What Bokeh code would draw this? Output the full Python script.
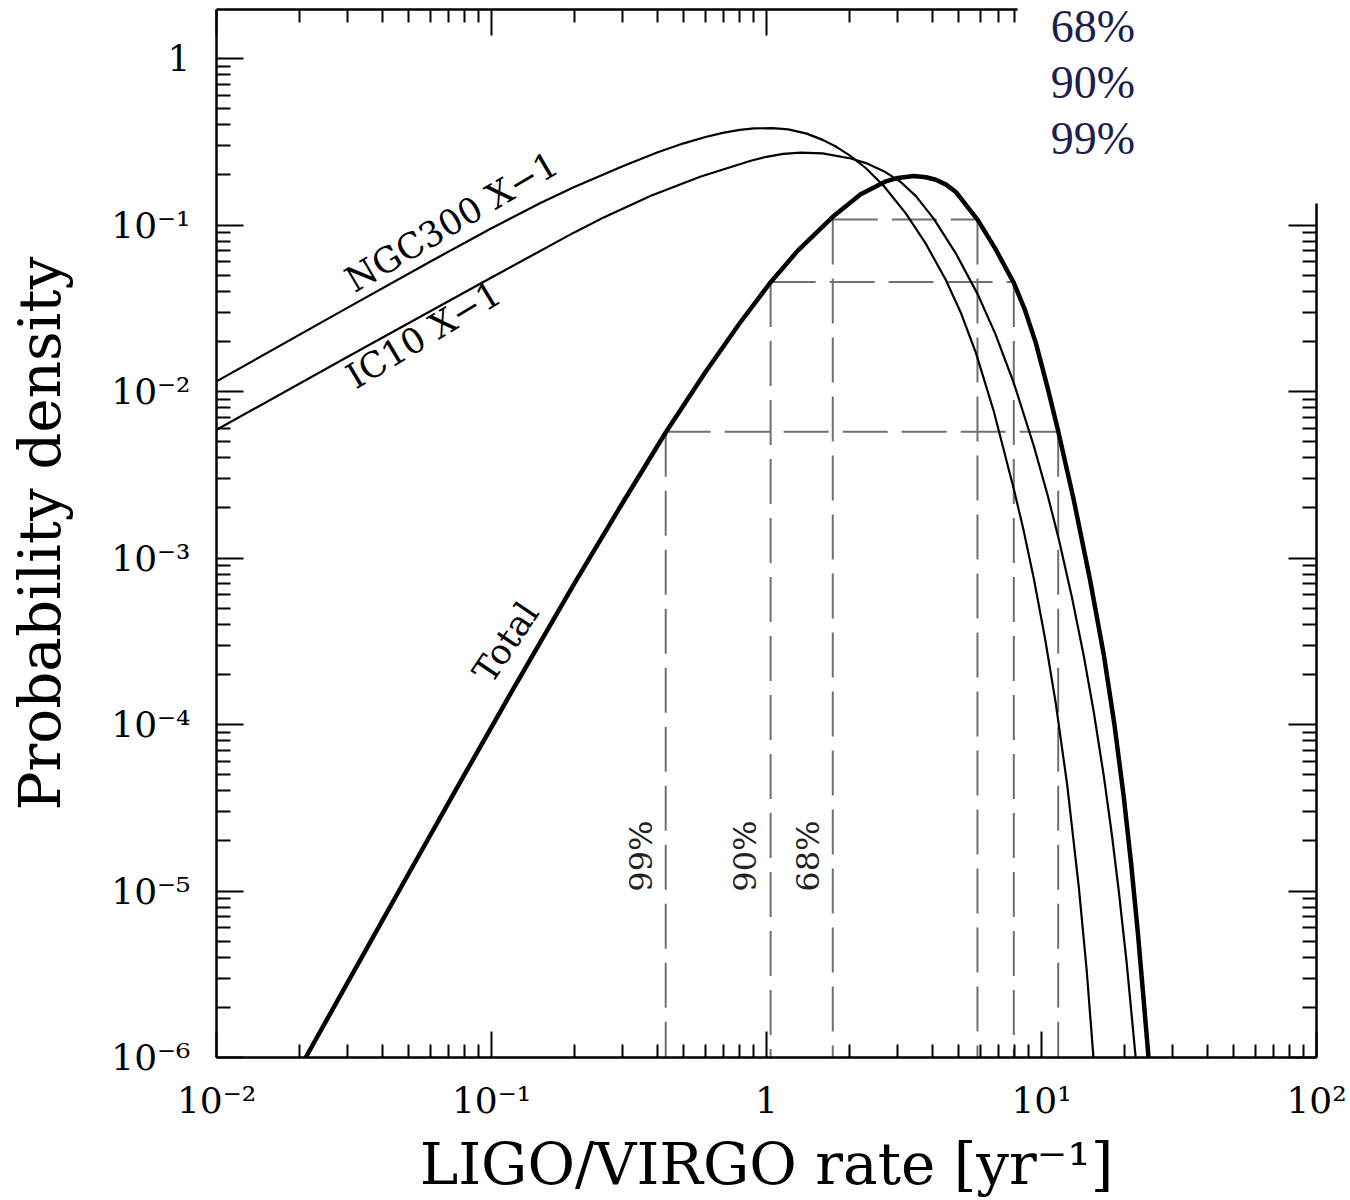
import math
from bokeh.plotting import figure
from bokeh.models import (FixedTicker, CustomJSTickFormatter, LogAxis, Label,
                          ColumnDataSource, Range1d)
from bokeh.core.properties import value
from bokeh.embed import file_html
from bokeh.resources import INLINE

# ---------------- data ----------------
ngc_x = [0.01, 0.03, 0.06, 0.1, 0.15, 0.2, 0.3, 0.4, 0.5, 0.6, 0.7, 0.8, 0.9,
         1.05, 1.2, 1.4, 1.6, 1.8, 2.0, 2.3, 2.67, 3.21, 3.79, 4.49, 5.1,
         5.77, 6.71, 7.93, 8.6, 9.38, 10.3, 11.27, 12.4, 13.67, 14.6, 15.45]
ngc_y = [0.0115, 0.0319, 0.0604, 0.0957, 0.1351, 0.169, 0.2254, 0.2725,
         0.3095, 0.3378, 0.3587, 0.3728, 0.3803, 0.382, 0.3756, 0.354,
         0.3247, 0.2938, 0.263, 0.2193, 0.1714, 0.1175, 0.0776, 0.0467,
         0.0295, 0.01713, 0.00759, 0.0026, 0.001476, 7.5e-4, 3.29e-4,
         1.34e-4, 4.34e-5, 1.05e-5, 3.33e-6, 1.0e-6]

ic10_x = [0.01, 0.03, 0.1, 0.2, 0.25, 0.38, 0.577, 0.877, 1.0, 1.15, 1.333,
          1.6, 2.026, 2.3, 2.67, 3.077, 3.5, 4.06, 4.9, 5.87, 6.8, 7.93,
          9.38, 10.54, 11.56, 12.9, 14.25, 15.5, 16.85, 18.0, 19.1, 20.4,
          22.0]
ic10_y = [0.00589, 0.01618, 0.0484, 0.0903, 0.1089, 0.1497, 0.1956, 0.2431,
          0.2569, 0.2672, 0.2719, 0.2694, 0.251, 0.2355, 0.2107, 0.1814,
          0.1486, 0.1088, 0.0668, 0.0382, 0.02213, 0.01125, 0.0047,
          0.002365, 0.001296, 5.82e-4, 2.58e-4, 1.18e-4, 4.9e-5, 2.22e-5,
          9.97e-6, 3.71e-6, 1.0e-6]

total_x = [0.0211, 0.03, 0.05, 0.08, 0.12, 0.2, 0.3, 0.43, 0.6, 0.8, 1.037,
           1.3, 1.742, 2.2, 2.7, 3.0, 3.43, 3.8, 4.127, 4.5, 4.88, 5.87, 6.8,
           7.93, 8.7, 9.535, 10.5, 11.47, 13.11, 15.0, 16.85, 18.4, 19.92,
           21.2, 22.4, 23.5, 24.5]
total_y = [1.0e-6, 2.824e-6, 1.274e-5, 5.05e-5, 1.636e-4, 7.01e-4, 2.148e-3,
           5.675e-3, 0.0131, 0.0258, 0.0455, 0.0702, 0.112, 0.1529, 0.182,
           0.1919, 0.197, 0.1937, 0.187, 0.1748, 0.158, 0.107, 0.0719,
           0.0449, 0.031, 0.0196, 0.0107, 0.00589, 0.00222, 7.46e-4,
           2.62e-4, 1.01e-4, 3.66e-5, 1.44e-5, 5.65e-6, 2.26e-6, 1.0e-6]

ci_labels = ["68%", "90%", "99%"]
ci_level = [0.108, 0.0455, 0.00573]
ci_low = [1.742, 1.035, 0.430]
ci_high = [5.85, 7.93, 11.5]

x_major = [0.01, 0.1, 1, 10, 100]
y_major = [1e-6, 1e-5, 1e-4, 1e-3, 1e-2, 1e-1, 1]

Y_MIN, Y_MAX = 1e-6, 1.97
X_MIN, X_MAX = 0.01, 100
TOP_AXIS_END = 8.2      # top frame edge stops here (white box in the corner)
RIGHT_AXIS_END = 0.1355  # right frame edge starts here

SERIF = "DejaVu Serif"

# ---------------- figure ----------------
p = figure(width=1350, height=1200, x_axis_type="log", y_axis_type="log",
           x_range=Range1d(X_MIN, X_MAX), y_range=Range1d(Y_MIN, Y_MAX),
           output_backend="svg", toolbar_location=None,
           min_border_left=216, min_border_right=34, min_border_top=9,
           min_border_bottom=141)
p.background_fill_color = "white"
p.border_fill_color = "white"
p.outline_line_color = None
p.xgrid.visible = False
p.ygrid.visible = False


def minors(majors, upto=None):
    out = []
    for m in majors:
        for k in range(2, 10):
            v = k * m
            if upto is not None and v > upto:
                continue
            out.append(v)
    return out


x_ticker = FixedTicker(ticks=x_major, minor_ticks=minors(x_major[:-1]))
y_ticker = FixedTicker(ticks=y_major, minor_ticks=minors(y_major[:-1]))

fmt = CustomJSTickFormatter(code="""
const e = Math.round(Math.log10(tick));
if (e === 0) { return "1"; }
const sup = {"-": "\u207b", "0": "\u2070", "1": "\u00b9", "2": "\u00b2",
             "3": "\u00b3", "4": "\u2074", "5": "\u2075", "6": "\u2076",
             "7": "\u2077", "8": "\u2078", "9": "\u2079"};
let s = "10";
for (const c of String(e)) { s += sup[c]; }
return s;
""")
blank = CustomJSTickFormatter(code="return '';")


def style_axis(ax, major_len, minor_len):
    ax.major_tick_in = major_len
    ax.major_tick_out = 0
    ax.minor_tick_in = minor_len
    ax.minor_tick_out = 0
    ax.major_tick_line_width = 2
    ax.minor_tick_line_width = 2
    ax.major_tick_line_color = "black"
    ax.minor_tick_line_color = "black"
    ax.axis_line_width = 2.5
    ax.axis_line_color = "black"


xa = p.xaxis[0]
xa.ticker = x_ticker
xa.formatter = fmt
style_axis(xa, 26, 13)
xa.major_label_text_font = SERIF
xa.major_label_text_font_size = "36px"
xa.major_label_text_color = "black"
xa.major_label_standoff = 22
xa.axis_label = "LIGO/VIRGO rate [yr\u207b\u00b9]"
xa.axis_label_text_font = SERIF
xa.axis_label_text_font_size = "58px"
xa.axis_label_text_font_style = "normal"
xa.axis_label_text_color = "black"
xa.axis_label_standoff = 6

ya = p.yaxis[0]
ya.ticker = y_ticker
ya.formatter = fmt
style_axis(ya, 27, 14)
ya.major_label_text_font = SERIF
ya.major_label_text_font_size = "36px"
ya.major_label_text_color = "black"
ya.major_label_standoff = 26
ya.axis_label = "Probability density"
ya.axis_label_text_font = SERIF
ya.axis_label_text_font_size = "58px"
ya.axis_label_text_font_style = "normal"
ya.axis_label_text_color = "black"
ya.axis_label_standoff = 34

top_major = [v for v in x_major if v <= TOP_AXIS_END]
top_ax = LogAxis(ticker=FixedTicker(ticks=top_major,
                                    minor_ticks=minors(top_major, TOP_AXIS_END)),
                 formatter=blank, bounds=(X_MIN, TOP_AXIS_END))
style_axis(top_ax, 26, 13)
top_ax.major_label_text_font_size = "0px"
top_ax.major_label_standoff = 0
p.add_layout(top_ax, "above")

right_major = [v for v in y_major if v <= RIGHT_AXIS_END]
right_ax = LogAxis(ticker=FixedTicker(ticks=right_major,
                                      minor_ticks=minors(right_major, RIGHT_AXIS_END)),
                   formatter=blank, bounds=(Y_MIN, RIGHT_AXIS_END))
style_axis(right_ax, 28, 14)
right_ax.major_label_text_font_size = "0px"
right_ax.major_label_standoff = 0
p.add_layout(right_ax, "right")

# ---------------- confidence-interval dashed lines ----------------
n = len(ci_level)
seg = ColumnDataSource(dict(
    x0=ci_low + ci_high + ci_low,
    y0=ci_level + ci_level + ci_level,
    x1=ci_low + ci_high + ci_high,
    y1=[Y_MIN] * n + [Y_MIN] * n + ci_level,
))
p.segment(x0="x0", y0="y0", x1="x1", y1="y1", source=seg,
          line_color="#707070", line_width=2, line_dash="45 14")

# labels next to the lower vertical lines
lab = ColumnDataSource(dict(
    x=[v * 0.81 for v in ci_low],
    y=[1.62e-5] * n,
    t=ci_labels,
))
p.text(x="x", y="y", text="t", source=lab, angle=90, angle_units="deg",
       text_align="center", text_baseline="middle",
       text_font=value(SERIF), text_font_size="32px", text_color="#222222")

# ---------------- curves ----------------
p.line(ngc_x, ngc_y, line_color="black", line_width=2.2, line_join="round")
p.line(ic10_x, ic10_y, line_color="black", line_width=2.2, line_join="round")
p.line(total_x, total_y, line_color="black", line_width=4.5, line_join="round")

# curve labels
curve_labels = ["NGC300 X\u22121", "IC10 X\u22121", "Total"]
cl = ColumnDataSource(dict(
    x=[0.0717, 0.0567, 0.1127],
    y=[0.1042, 0.02188, 0.000311],
    t=curve_labels,
    a=[30.5, 31.0, 56.0],
))
p.text(x="x", y="y", text="t", angle="a", angle_units="deg", source=cl,
       text_align="center", text_baseline="middle",
       text_font=value(SERIF), text_font_size="35px", text_color="black")

# top-right confidence legend text (navy)
legend_y = [1.562, 0.7207, 0.3325]
for t, yy in zip(ci_labels, legend_y):
    p.add_layout(Label(x=10.8, y=yy, text=t, text_align="left",
                       text_baseline="middle", text_font="Liberation Serif",
                       text_font_size="46px", text_color="#1e1e4c"))

open("out.html", "w").write(file_html(p, INLINE))
